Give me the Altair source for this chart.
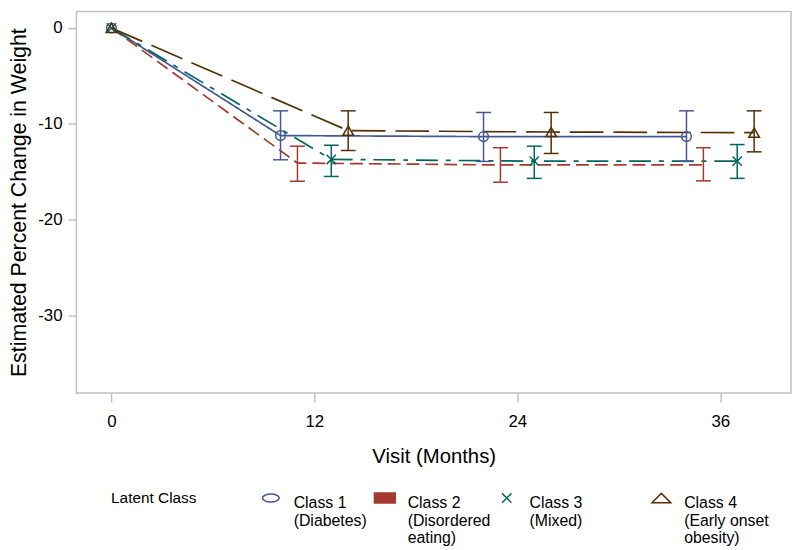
import json
import altair as alt
import pandas as pd

# ---- data ----
class_names = ["Class 1", "Class 2", "Class 3", "Class 4"]
legend_lines = [
    ["Class 1", "(Diabetes)", " "],
    ["Class 2", "(Disordered", "eating)"],
    ["Class 3", "(Mixed)" + "\u00a0" * 14 + "\u200b", " "],
    ["Class 4", "(Early onset", "obesity)"],
]
colors = ["#445694", "#A23A2E", "#01665E", "#543005"]
legend_fills = ["transparent", "#A23A2E", "transparent", "transparent"]
dashes = [[1, 0], [13, 6], [22, 8, 5, 8], [34, 10]]

visit_ticks = [0, 12, 24, 36]
y_ticks = [0, -10, -20, -30]

# plotted month positions (visits 0/12/24/36, offset per class)
c1_month = [0, 10, 22, 34]
c1_est = [0, -11.23, -11.34, -11.34]
c1_upper = [-8.65, -8.82, -8.65]
c1_lower = [-13.76, -13.93, -13.93]

c2_month = [0, 11, 23, 35]
c2_est = [0, -14.1, -14.3, -14.3]
c2_upper = [-12.34, -12.5, -12.5]
c2_lower = [-16.0, -16.1, -15.96]

c3_month = [0, 13, 25, 37]
c3_est = [0, -13.72, -13.9, -13.9]
c3_upper = [-12.24, -12.34, -12.17]
c3_lower = [-15.5, -15.7, -15.7]

c4_month = [0, 14, 26, 38]
c4_est = [0, -10.72, -10.86, -10.93]
c4_upper = [-8.65, -8.82, -8.65]
c4_lower = [-12.79, -13.1, -12.93]

series = [
    (c1_month, c1_est, c1_upper, c1_lower),
    (c2_month, c2_est, c2_upper, c2_lower),
    (c3_month, c3_est, c3_upper, c3_lower),
    (c4_month, c4_est, c4_upper, c4_lower),
]

est_rows, ci_rows = [], []
for name, (m, e, u, l) in zip(class_names, series):
    for mi, ei in zip(m, e):
        est_rows.append({"cls": name, "month": mi, "est": ei})
    for mi, ui, li in zip(m[1:], u, l):
        ci_rows.append({"cls": name, "month": mi, "upper": ui, "lower": li})
est_df = pd.DataFrame(est_rows)
ci_df = pd.DataFrame(ci_rows)
cap_df = pd.concat([
    ci_df[["cls", "month"]].assign(v=ci_df["upper"]),
    ci_df[["cls", "month"]].assign(v=ci_df["lower"]),
])

FONT = "Liberation Sans"
X_DOMAIN = [-2.07, 40.18]
Y_DOMAIN = [-38.1, 1.73]

xs = alt.Scale(domain=X_DOMAIN, nice=False, zero=False)
ys = alt.Scale(domain=Y_DOMAIN, nice=False, zero=False)
cscale = alt.Scale(domain=class_names, range=colors)

x_axis = alt.Axis(values=visit_ticks, title="Visit (Months)", grid=False, domain=False,
                  tickColor="#C0C0C0", tickSize=9, tickWidth=1.5,
                  labelFont=FONT, labelFontSize=17, labelColor="black", labelPadding=12,
                  titleFont=FONT, titleFontSize=20.5, titleFontWeight="normal",
                  titleColor="black", titlePadding=17)
y_axis = alt.Axis(values=y_ticks, title="Estimated Percent Change in Weight", grid=False,
                  domain=False, tickColor="#C0C0C0", tickSize=8.5, tickWidth=1.5,
                  labelFont=FONT, labelFontSize=17, labelColor="black", labelPadding=6,
                  labelExpr="toString(datum.value)",
                  titleFont=FONT, titleFontSize=21.5, titleFontWeight="normal",
                  titleColor="black", titlePadding=7)

# legend symbol shapes (custom paths scaled by symbolSize)
legend_shapes = [
    "M-0.8,0.31A0.8,0.38 0 1,1 0.8,0.31A0.8,0.38 0 1,1 -0.8,0.31Z",
    "M-1,-0.17H1V0.79H-1Z",
    "M-0.45,-0.14L0.45,0.76M-0.45,0.76L0.45,-0.14",
    "M-0.9,0.76L0,-0.14L0.9,0.76Z",
]
label_map = json.dumps(dict(zip(class_names, legend_lines)), ensure_ascii=False)

legend = alt.Legend(
    title="Latent Class", orient="none", legendX=35, legendY=476,
    direction="horizontal", columns=4, columnPadding=4, padding=0,
    titleOrient="left", titlePadding=62.7, titleFont=FONT, titleFontSize=15.5,
    titleFontWeight="normal", titleColor="black", titleBaseline="line-top",
    titleLineHeight=31, titleAnchor="start",
    labelFont=FONT, labelFontSize=16, labelColor="black", labelBaseline="top",
    labelOffset=11.5, symbolSize=441, labelLimit=300, symbolOpacity=1,
    symbolStrokeWidth=1.5,
    labelExpr=f"{label_map}[datum.label]",
)
color_enc = alt.Color("cls:N", scale=cscale, legend=legend)

# one line layer per class (dash pattern as a mark style)
line_layers = []
for cname, dash in zip(class_names, dashes):
    line_layers.append(
        alt.Chart(est_df).transform_filter(alt.datum.cls == cname)
        .mark_line(strokeWidth=1.7, strokeDash=dash)
        .encode(
            x=alt.X("month:Q", scale=xs, axis=x_axis),
            y=alt.Y("est:Q", scale=ys, axis=y_axis),
            color=color_enc,
            order="month:Q",
        )
    )

rules = alt.Chart(ci_df).mark_rule(strokeWidth=1.5).encode(
    x=alt.X("month:Q", scale=xs),
    y=alt.Y("lower:Q", scale=ys),
    y2="upper:Q",
    color=color_enc,
)

# error-bar caps drawn as short horizontal rules centred on each point
caps = alt.Chart(cap_df).mark_rule(strokeWidth=1.5, xOffset=-7.5, x2Offset=7.5).encode(
    x=alt.X("month:Q", scale=xs),
    x2="month:Q",
    y=alt.Y("v:Q", scale=ys),
    color=color_enc,
)

marker_classes = ["Class 1", "Class 3", "Class 4"]
marker_shapes = ["circle", "M-1,-1L1,1M-1,1L1,-1", "triangle-up"]
marker_sizes = [95, 90, 115]
point_layers = []
for cname, shp, sz in zip(marker_classes, marker_shapes, marker_sizes):
    point_layers.append(
        alt.Chart(est_df).transform_filter(alt.datum.cls == cname)
        .mark_point(filled=False, strokeWidth=1.5, size=sz, opacity=1, shape=shp)
        .encode(
            x=alt.X("month:Q", scale=xs),
            y=alt.Y("est:Q", scale=ys),
            color=color_enc,
        )
    )

# invisible layer (baseline points) that carries the legend symbols
legend_layer = alt.Chart(est_df).transform_filter(
    alt.datum.month == 0
).mark_point(filled=False, opacity=0, strokeWidth=1.5).encode(
    x=alt.X("month:Q", scale=xs),
    y=alt.Y("est:Q", scale=ys),
    color=color_enc,
    fill=alt.Fill("cls:N", scale=alt.Scale(domain=class_names, range=legend_fills), legend=legend),
    shape=alt.Shape("cls:N", scale=alt.Scale(domain=class_names, range=legend_shapes), legend=legend),
)

chart = alt.layer(*line_layers, rules, caps, *point_layers, legend_layer).properties(
    width=721, height=385,
    autosize=alt.AutoSizeParams(type="none"),
    padding={"left": 69, "top": 1, "right": 1, "bottom": 156},
    background="white",
).configure_view(stroke="#C0C0C0", strokeWidth=1.5)

chart.save("out.html", embed_options={"renderer": "svg", "actions": False})
